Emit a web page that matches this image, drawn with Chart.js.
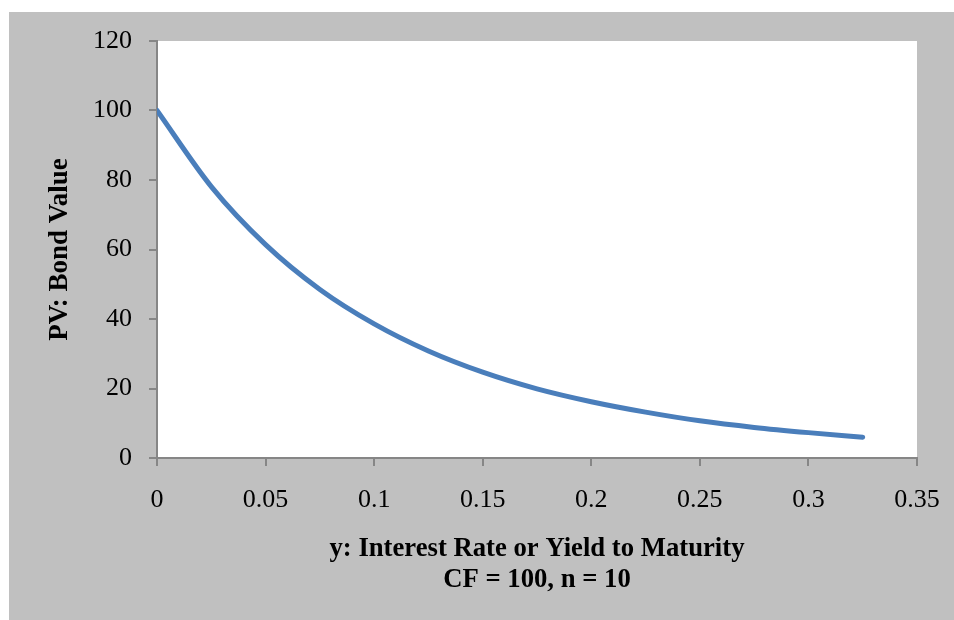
<!DOCTYPE html>
<html>
<head>
<meta charset="utf-8">
<script src="https://cdn.jsdelivr.net/npm/chart.js@4.4.0/dist/chart.umd.min.js"></script>
<style>
  html, body { margin: 0; padding: 0; background: #fff; }
  #wrap { position: absolute; left: 9px; top: 12px; width: 945px; height: 608px; }
</style>
</head>
<body>
<div id="wrap"><canvas id="bondChart"></canvas></div>
<script>
const yields = [0, 0.025, 0.05, 0.075, 0.1, 0.125, 0.15, 0.175, 0.2, 0.225, 0.25, 0.275, 0.3, 0.325];
const bondValues = [100, 78.1, 61.4, 48.5, 38.6, 30.8, 24.7, 19.9, 16.2, 13.2, 10.7, 8.8, 7.3, 6.0];
const xTicks = [0, 0.05, 0.1, 0.15, 0.2, 0.25, 0.3, 0.35];
const yTicks = [0, 20, 40, 60, 80, 100, 120];
const xTitle = ['y: Interest Rate or Yield to Maturity', 'CF = 100, n = 10'];
const yTitle = 'PV: Bond Value';

const serif = '"Liberation Serif", "Times New Roman", serif';
const axisGray = '#868686';

const backgrounds = {
    id: 'backgrounds',
    beforeDraw(chart) {
        const { ctx, chartArea } = chart;
        ctx.save();
        ctx.fillStyle = '#c0c0c0';
        ctx.fillRect(0, 0, chart.width, chart.height);
        ctx.fillStyle = '#ffffff';
        ctx.fillRect(chartArea.left, chartArea.top, chartArea.right - chartArea.left, chartArea.bottom - chartArea.top);
        ctx.restore();
    }
};

const ctx = document.getElementById('bondChart').getContext('2d');
const bondChart = new Chart(ctx, {
    type: 'line',
    data: {
        datasets: [{
            label: 'PV',
            data: yields.map((y, i) => ({ x: y, y: bondValues[i] })),
            borderColor: '#4a7ebb',
            borderWidth: 5,
            borderCapStyle: 'round',
            pointRadius: 0,
            cubicInterpolationMode: 'monotone',
            fill: false
        }]
    },
    options: {
        responsive: true,
        maintainAspectRatio: false,
        animation: false,
        layout: { padding: { top: 29, right: 37, left: 0, bottom: 0 } },
        plugins: {
            legend: { display: false },
            tooltip: { enabled: false }
        },
        scales: {
            x: {
                type: 'linear',
                min: 0,
                max: 0.35,
                afterFit: scale => {
                    scale.height = 162;
                    scale.paddingLeft = 0;
                    scale.paddingRight = 0;
                },
                afterBuildTicks: scale => { scale.ticks = xTicks.map(v => ({ value: v })); },
                ticks: {
                    color: '#000',
                    font: { family: serif, size: 26 },
                    padding: 19,
                    maxRotation: 0,
                    callback: v => String(parseFloat(v.toFixed(2)))
                },
                grid: { drawOnChartArea: false, color: axisGray, lineWidth: 2, tickLength: 8 },
                border: { color: axisGray, width: 2 },
                title: {
                    display: true,
                    text: xTitle,
                    color: '#000',
                    font: { family: serif, size: 26.7, weight: 'bold', lineHeight: 1.16 },
                    padding: { top: 0, bottom: 24 }
                }
            },
            y: {
                min: 0,
                max: 120,
                afterFit: scale => {
                    scale.width = 148;
                    scale.paddingTop = 0;
                    scale.paddingBottom = 0;
                },
                afterBuildTicks: scale => { scale.ticks = yTicks.map(v => ({ value: v })); },
                ticks: {
                    color: '#000',
                    font: { family: serif, size: 26 },
                    padding: 17
                },
                grid: { drawOnChartArea: false, color: axisGray, lineWidth: 2, tickLength: 8 },
                border: { color: axisGray, width: 2 },
                title: {
                    display: true,
                    text: yTitle,
                    color: '#000',
                    font: { family: serif, size: 27, weight: 'bold', lineHeight: 1.2 },
                    padding: { top: 35, bottom: 0 }
                }
            }
        }
    },
    plugins: [backgrounds]
});
</script>
</body>
</html>
